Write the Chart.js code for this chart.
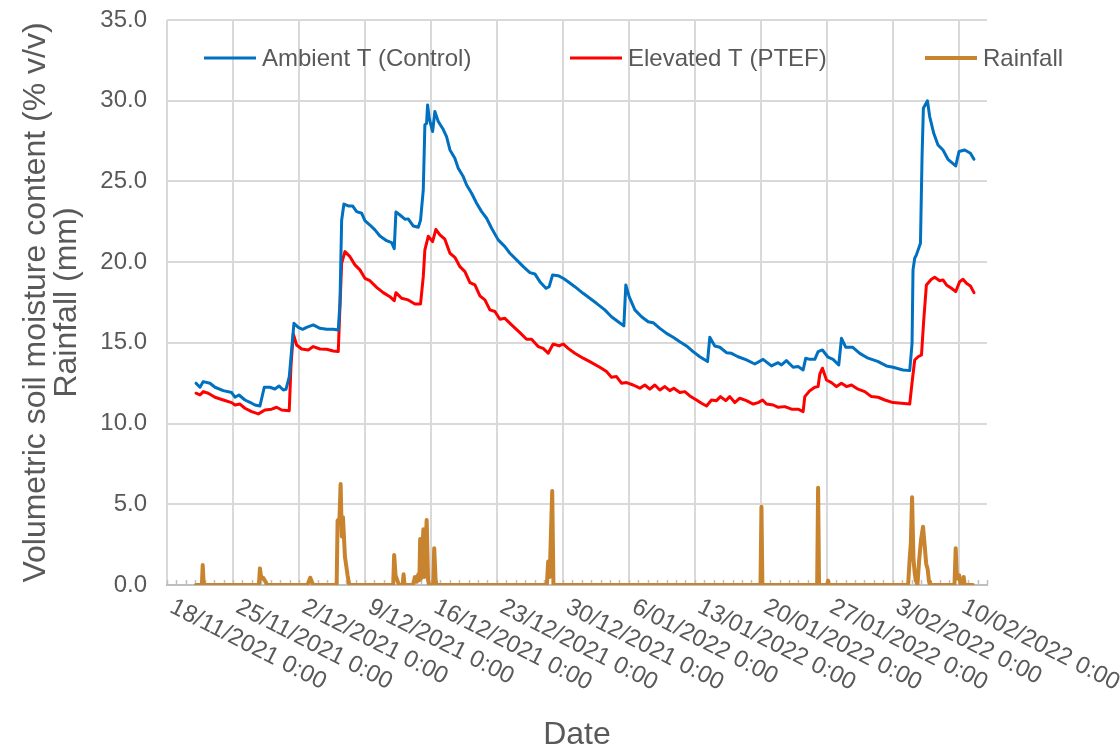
<!DOCTYPE html>
<html>
<head>
<meta charset="utf-8">
<script src="https://cdn.jsdelivr.net/npm/chart.js@4.4.1/dist/chart.umd.min.js"></script>
<style>
  html, body { margin: 0; padding: 0; background: #ffffff; }
  #wrap { width: 1120px; height: 746px; }
</style>
</head>
<body>
<div id="wrap"><canvas id="c" width="1120" height="746"></canvas></div>
<script>
// Time is measured in days since 18/11/2021 0:00.
const START = { y: 2021, m: 10, d: 18 };

// Ambient T (Control) volumetric soil moisture, % v/v
const ambientDay = [3.08,3.5,3.85,4.56,5.09,5.97,6.86,7.21,7.64,8.27,8.8,9.33,9.86,10.32,10.92,11.45,11.88,12.34,12.62,12.97,13.47,13.93,14.39,14.81,15.52,16.23,16.94,17.64,18.17,18.35,18.53,18.77,19.23,19.69,20.12,20.65,21.0,21.53,22.06,22.59,23.3,23.83,24.11,24.29,24.71,25.24,25.59,26.12,26.66,26.9,27.19,27.36,27.54,27.65,27.82,28.18,28.42,28.78,29.3,29.66,30.02,30.54,30.9,31.43,31.79,32.32,32.85,33.38,33.91,34.44,35.14,35.85,36.38,37.09,37.8,38.5,39.03,39.56,40.2,40.55,40.91,41.5,42.03,42.56,43.27,44.15,44.86,45.57,46.45,47.16,47.87,48.47,48.68,49.03,49.64,50.35,51.05,51.58,52.29,53.0,53.7,54.41,55.12,55.82,56.53,57.35,57.59,58.12,58.65,59.36,59.89,60.59,61.48,62.36,63.24,64.13,64.84,65.2,65.72,66.43,66.96,67.49,67.77,68.2,68.73,69.08,69.54,70.14,70.67,71.27,71.56,72.01,72.73,73.5,74.38,75.4,76.33,77.03,78.09,78.8,79.05,79.15,79.33,79.51,79.94,80.11,80.25,80.68,80.92,81.35,81.8,82.33,82.86,83.68,84.03,84.64,85.24,85.62];
const ambientVwc = [12.5,12.25,12.6,12.5,12.25,12.04,11.92,11.63,11.77,11.46,11.32,11.15,11.09,12.25,12.25,12.14,12.33,12.08,12.12,12.9,16.21,15.96,15.84,15.96,16.11,15.9,15.84,15.84,15.8,17.45,22.6,23.6,23.48,23.48,23.13,23.03,22.57,22.3,22.0,21.62,21.33,21.21,20.84,23.11,22.92,22.66,22.68,22.24,22.16,22.6,24.47,28.5,28.6,29.74,28.91,28.09,29.33,28.71,28.23,27.78,26.95,26.44,25.82,25.3,24.78,24.27,23.65,23.13,22.72,22.1,21.38,20.96,20.55,20.14,19.72,19.35,19.27,18.79,18.38,18.48,19.21,19.16,19.0,18.79,18.48,18.07,17.76,17.45,17.04,16.62,16.31,16.05,18.59,17.86,17.04,16.62,16.31,16.25,15.9,15.59,15.35,15.07,14.81,14.46,14.14,13.84,15.35,14.81,14.73,14.39,14.35,14.14,13.94,13.69,13.98,13.57,13.77,13.63,13.9,13.49,13.53,13.32,14.05,13.98,13.98,14.46,14.56,14.11,13.98,13.63,15.28,14.73,14.73,14.35,14.05,13.85,13.57,13.49,13.32,13.28,14.97,19.52,20.24,20.45,21.17,26.54,29.53,30.0,29.02,27.98,27.26,26.95,26.37,25.96,26.85,26.95,26.75,26.37];

// Elevated T (PTEF) volumetric soil moisture, % v/v
const elevatedDay = [3.08,3.5,3.85,4.38,5.09,5.97,6.86,7.21,7.74,8.27,8.98,9.69,10.39,11.1,11.63,12.17,12.97,13.15,13.4,13.75,14.29,14.99,15.52,16.23,16.94,17.64,18.17,18.35,18.53,18.88,19.41,19.94,20.47,21.0,21.53,22.24,22.94,23.65,24.11,24.29,24.89,25.59,26.3,26.9,27.19,27.36,27.72,28.18,28.53,28.95,29.48,30.02,30.54,31.08,31.61,32.14,32.67,33.2,33.73,34.26,34.79,35.32,35.85,36.56,37.44,38.15,38.68,39.38,39.91,40.44,40.97,41.61,42.03,42.56,43.27,44.15,44.86,45.92,46.63,47.16,47.69,48.22,48.76,49.46,50.17,50.7,51.23,51.76,52.29,52.82,53.35,53.77,54.41,54.94,55.47,56.18,56.71,57.24,57.77,58.3,58.72,59.28,59.71,60.24,60.77,61.48,62.19,62.72,63.19,63.61,64.32,64.85,65.55,66.26,66.96,67.49,67.67,68.2,68.73,69.08,69.26,69.54,69.97,70.5,71.03,71.56,72.09,72.62,73.32,74.03,74.74,75.45,76.16,77.03,77.92,78.8,79.08,79.33,79.69,80.05,80.29,80.57,81.1,81.45,81.98,82.33,82.7,83.23,83.68,84.1,84.45,84.82,85.24,85.62];
const elevatedVwc = [11.88,11.77,11.98,11.88,11.63,11.46,11.3,11.15,11.21,10.95,10.74,10.6,10.84,10.89,11.01,10.84,10.8,13.53,15.55,14.87,14.62,14.56,14.77,14.62,14.6,14.5,14.46,17.24,19.93,20.65,20.34,19.83,19.52,19.0,18.85,18.44,18.11,17.86,17.61,18.11,17.76,17.66,17.41,17.41,19.1,20.76,21.6,21.27,22.03,21.69,21.42,20.55,20.3,19.72,19.41,18.73,18.59,17.91,17.66,17.04,16.94,16.46,16.52,16.11,15.63,15.22,15.22,14.77,14.66,14.36,14.93,14.81,14.93,14.66,14.36,14.05,13.84,13.49,13.22,12.87,12.91,12.5,12.54,12.39,12.19,12.39,12.13,12.39,12.08,12.29,12.04,12.19,11.92,11.98,11.71,11.46,11.26,11.09,11.46,11.42,11.67,11.42,11.67,11.3,11.57,11.42,11.21,11.3,11.46,11.21,11.15,11.01,11.05,10.89,10.89,10.74,11.67,12.04,12.25,12.29,13.07,13.43,12.7,12.54,12.29,12.5,12.29,12.39,12.13,11.98,11.67,11.63,11.46,11.3,11.26,11.21,12.7,13.94,14.14,14.25,16.42,18.59,18.94,19.06,18.85,18.9,18.59,18.38,18.17,18.79,18.94,18.69,18.52,18.11];

// Rainfall, mm
const rainDay = [3.08,3.7,3.79,3.9,9.75,9.86,10.0,10.2,10.5,10.6,14.9,15.2,15.5,18.0,18.1,18.3,18.42,18.55,18.67,18.88,19.16,19.34,24.0,24.1,24.25,24.43,24.6,25.0,25.1,25.2,26.12,26.3,26.5,26.66,26.78,26.86,26.95,27.2,27.3,27.55,27.7,27.8,28.25,28.35,28.5,28.6,40.3,40.44,40.6,40.87,41.0,62.97,63.07,63.17,68.98,69.08,69.18,70.04,70.14,70.24,78.63,78.8,78.92,79.05,79.2,79.32,79.44,79.62,79.79,80.0,80.21,80.38,80.55,80.7,80.85,80.95,83.55,83.68,83.8,83.9,84.05,84.2,84.43,84.53,84.63,85.5];
const rainMm = [0,0,1.24,0,0,1.03,0.4,0.45,0.15,0,0,0.45,0,0,4.0,4.1,6.26,3.0,4.2,1.75,0.6,0,0,1.86,0.6,0.3,0,0,0.66,0,0,0.5,0.2,0.66,0.3,2.85,0.4,3.45,0.5,4.03,0.3,0,0,2.27,0.3,0,0,1.45,0.5,5.82,0,0,4.85,0,0,6.03,0,0,0.27,0,0,1.65,2.6,5.43,1.6,0.8,0.3,0,1.45,2.8,3.61,2.5,1.3,1.0,0.2,0,0,2.27,0.5,0.4,0.6,0,0,0.5,0,0];

const seriesNames = ['Ambient T (Control)', 'Elevated T (PTEF)', 'Rainfall'];
const yTitle = ['Volumetric soil moisture content (% v/v)', 'Rainfall (mm)'];
const xTitle = 'Date';

const FONT = '"Liberation Sans", Arial, sans-serif';
const TEXT = '#595959';
const GRID = '#d9d9d9';

function pairs(xs, ys) { return xs.map((x, i) => ({ x: x, y: ys[i] })); }

function dateLabel(day) {
  const dt = new Date(Date.UTC(START.y, START.m, START.d) + Math.round(day) * 86400000);
  const mm = String(dt.getUTCMonth() + 1).padStart(2, '0');
  return dt.getUTCDate() + '/' + mm + '/' + dt.getUTCFullYear() + ' 0:00';
}

// Daily minor tick marks along the date axis, pointing into the plot
const dayTicks = {
  id: 'dayTicks',
  beforeDatasetsDraw(chart) {
    const xs = chart.scales.x, ctx = chart.ctx, bottom = chart.chartArea.bottom;
    ctx.save();
    ctx.strokeStyle = '#bfbfbf';
    ctx.lineWidth = 1.5;
    for (let d = Math.ceil(xs.min); d <= xs.max; d++) {
      const px = Math.round(xs.getPixelForValue(d)) + 0.5;
      ctx.beginPath();
      ctx.moveTo(px, bottom);
      ctx.lineTo(px, bottom - 5);
      ctx.stroke();
    }
    ctx.restore();
  }
};

// Slanted date labels, each starting at its weekly grid line
const slantedDates = {
  id: 'slantedDates',
  afterDraw(chart) {
    const xs = chart.scales.x, ctx = chart.ctx, bottom = chart.chartArea.bottom;
    ctx.save();
    ctx.font = '24px ' + FONT;
    ctx.fillStyle = TEXT;
    ctx.textAlign = 'left';
    ctx.textBaseline = 'top';
    xs.ticks.forEach(t => {
      const px = xs.getPixelForValue(t.value);
      ctx.save();
      ctx.translate(px + 10, bottom + 10);
      ctx.rotate(27 * Math.PI / 180);
      ctx.fillText(dateLabel(t.value), 0, 0);
      ctx.restore();
    });
    ctx.restore();
  }
};

// Series key across the top of the plot
const keyRow = {
  id: 'keyRow',
  afterDraw(chart) {
    const ctx = chart.ctx;
    const slots = [204, 570, 925];
    const y = chart.chartArea.top + 38;
    ctx.save();
    ctx.font = '24px ' + FONT;
    ctx.textAlign = 'left';
    ctx.textBaseline = 'middle';
    chart.data.datasets.forEach((ds, i) => {
      const x0 = slots[i];
      ctx.strokeStyle = ds.borderColor;
      ctx.lineWidth = ds.borderWidth;
      ctx.lineCap = 'butt';
      ctx.beginPath();
      ctx.moveTo(x0, y);
      ctx.lineTo(x0 + 52, y);
      ctx.stroke();
      ctx.fillStyle = TEXT;
      ctx.fillText(ds.label, x0 + 58, y + 1);
    });
    ctx.restore();
  }
};

new Chart(document.getElementById('c'), {
  type: 'line',
  data: {
    datasets: [
      { label: seriesNames[0], data: pairs(ambientDay, ambientVwc), borderColor: '#0070c0', borderWidth: 3 },
      { label: seriesNames[1], data: pairs(elevatedDay, elevatedVwc), borderColor: '#ff0000', borderWidth: 3 },
      { label: seriesNames[2], data: pairs(rainDay, rainMm), borderColor: '#c8832e', borderWidth: 4 }
    ]
  },
  options: {
    responsive: false,
    animation: false,
    devicePixelRatio: 1,
    layout: { padding: { top: 20, right: 133, left: 0, bottom: 0 } },
    elements: {
      point: { radius: 0, hoverRadius: 0 },
      line: { tension: 0, borderJoinStyle: 'round', borderCapStyle: 'round', fill: false }
    },
    plugins: { legend: { display: false }, tooltip: { enabled: false } },
    scales: {
      x: {
        type: 'linear',
        min: 0,
        max: 87,
        ticks: { stepSize: 7, display: false, includeBounds: false },
        grid: { color: GRID, lineWidth: 2, drawTicks: false },
        border: { display: true, color: '#bfbfbf', width: 2 },
        title: { display: true, text: xTitle, color: TEXT, font: { family: FONT, size: 32, lineHeight: 1 }, padding: { top: 0, bottom: -5 } },
        afterFit(s) { s.height = 161; }
      },
      y: {
        min: 0,
        max: 35,
        ticks: { stepSize: 5, color: TEXT, font: { family: FONT, size: 24 }, padding: 20, callback: v => v.toFixed(1) },
        grid: { color: GRID, lineWidth: 2, drawTicks: false },
        border: { display: false },
        title: { display: true, text: yTitle, color: TEXT, font: { family: FONT, size: 32, lineHeight: 0.97 }, padding: { top: 21, bottom: 0 } },
        afterFit(s) { s.width = 167; s.paddingTop = 0; s.paddingBottom = 0; }
      }
    }
  },
  plugins: [dayTicks, slantedDates, keyRow]
});
</script>
</body>
</html>
